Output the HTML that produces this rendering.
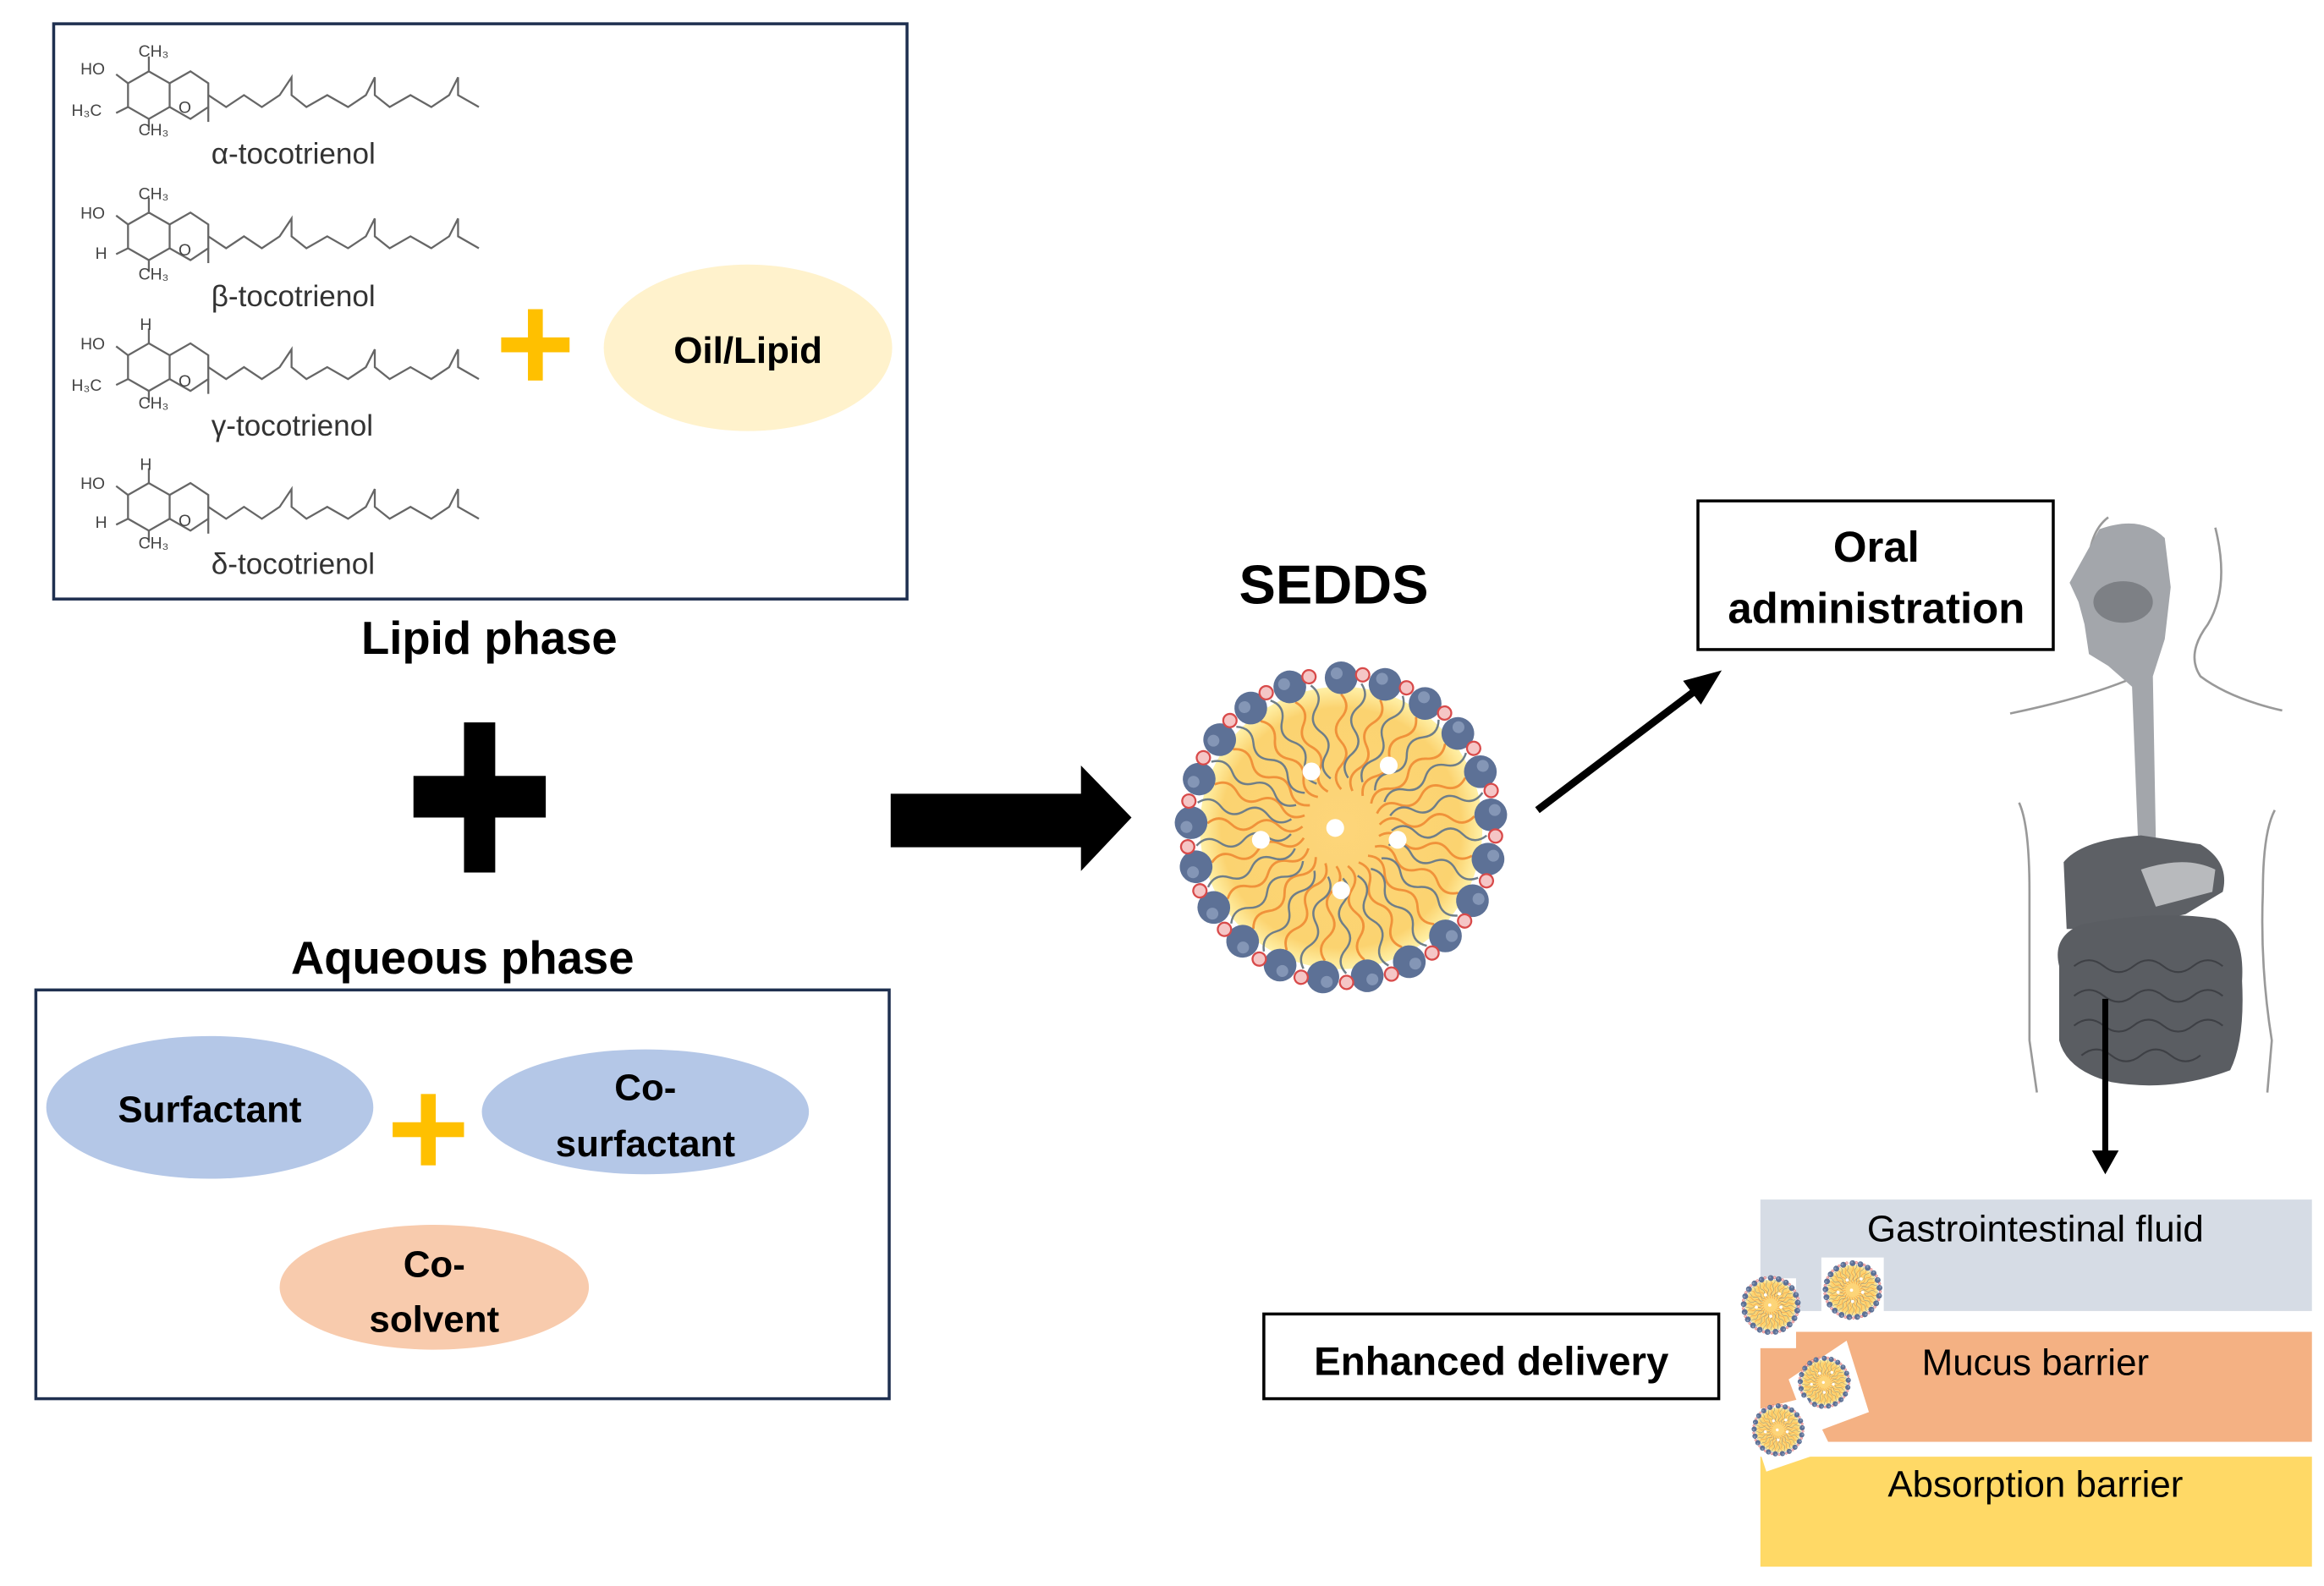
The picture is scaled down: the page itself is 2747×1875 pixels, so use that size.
<!DOCTYPE html>
<html><head><meta charset="utf-8"><style>
html,body{margin:0;padding:0;background:#fff}
svg{display:block}
text{font-family:"Liberation Sans","DejaVu Sans",sans-serif}
.b{font-weight:bold}
</style></head><body>
<svg width="2747" height="1875" viewBox="0 0 1563 1067" xmlns="http://www.w3.org/2000/svg">
<defs>
<radialGradient id="yg" cx="50%" cy="50%" r="50%">
<stop offset="0" stop-color="#fdd57a"/><stop offset="0.85" stop-color="#fbd370"/><stop offset="1" stop-color="#fff1a8"/>
</radialGradient>
<g id="mol" fill="none" stroke="#666" stroke-width="1.3">
<polygon points="100,48 114,56 114,72 100,80 86,72 86,56"/>
<polyline points="114,56 128,48 140,56 140,72 128,80 114,72"/>
<line x1="100" y1="48" x2="100" y2="38"/><line x1="100" y1="80" x2="100" y2="88"/>
<line x1="86" y1="56" x2="78" y2="50"/><line x1="86" y1="72" x2="78" y2="76"/>
<line x1="140" y1="72" x2="140" y2="82"/>
<polyline points="140,64 152,72 164,64 176,72 188,64 196,52 196,64 206,72 220,64 234,72 246,64 252,52 252,64 262,72 276,64 290,72 302,64 308,52 308,64 322,72"/>
</g>
<g id="spoke">
<path d="M0,-90 Q7,-82 0,-74 Q-7,-66 0,-58 Q7,-50 0,-42 Q-7,-34 0,-26" fill="none" stroke="#f0923a" stroke-width="1.6"/>
<circle cx="0" cy="-101" r="11" fill="#5d7196"/>
<circle cx="-3" cy="-104" r="4" fill="#8496b6"/>
</g>
<g id="rspoke">
<path d="M0,-98 Q7,-90 0,-82 Q-7,-74 0,-66 Q7,-58 0,-50 Q-7,-42 0,-34" fill="none" stroke="#6f7e88" stroke-width="1.4"/>
<circle cx="0" cy="-104" r="4.5" fill="#f5c6c6" stroke="#d84a4a" stroke-width="1.3"/>
</g>
<g id="part">
<circle cx="0" cy="0" r="95" fill="url(#yg)"/>
<use href="#spoke" transform="rotate(0)"/><use href="#spoke" transform="rotate(17)"/><use href="#spoke" transform="rotate(34)"/><use href="#spoke" transform="rotate(51)"/><use href="#spoke" transform="rotate(68)"/><use href="#spoke" transform="rotate(85)"/><use href="#spoke" transform="rotate(102)"/><use href="#spoke" transform="rotate(119)"/><use href="#spoke" transform="rotate(136)"/><use href="#spoke" transform="rotate(153)"/><use href="#spoke" transform="rotate(170)"/><use href="#spoke" transform="rotate(187)"/><use href="#spoke" transform="rotate(204)"/><use href="#spoke" transform="rotate(221)"/><use href="#spoke" transform="rotate(238)"/><use href="#spoke" transform="rotate(255)"/><use href="#spoke" transform="rotate(272)"/><use href="#spoke" transform="rotate(289)"/><use href="#spoke" transform="rotate(306)"/><use href="#spoke" transform="rotate(323)"/><use href="#spoke" transform="rotate(340)"/>
<use href="#rspoke" transform="rotate(8)"/><use href="#rspoke" transform="rotate(25)"/><use href="#rspoke" transform="rotate(42)"/><use href="#rspoke" transform="rotate(59)"/><use href="#rspoke" transform="rotate(76)"/><use href="#rspoke" transform="rotate(93)"/><use href="#rspoke" transform="rotate(110)"/><use href="#rspoke" transform="rotate(127)"/><use href="#rspoke" transform="rotate(144)"/><use href="#rspoke" transform="rotate(161)"/><use href="#rspoke" transform="rotate(178)"/><use href="#rspoke" transform="rotate(195)"/><use href="#rspoke" transform="rotate(212)"/><use href="#rspoke" transform="rotate(229)"/><use href="#rspoke" transform="rotate(246)"/><use href="#rspoke" transform="rotate(263)"/><use href="#rspoke" transform="rotate(280)"/><use href="#rspoke" transform="rotate(297)"/><use href="#rspoke" transform="rotate(314)"/><use href="#rspoke" transform="rotate(331)"/><use href="#rspoke" transform="rotate(348)"/>
<circle cx="-20" cy="-38" r="6" fill="#fff"/><circle cx="32" cy="-42" r="6" fill="#fff"/><circle cx="-4" cy="0" r="6" fill="#fff"/><circle cx="-54" cy="8" r="6" fill="#fff"/><circle cx="38" cy="8" r="6" fill="#fff"/><circle cx="0" cy="42" r="6" fill="#fff"/>
</g>
</defs>

<!-- Lipid box -->
<rect x="36" y="16" width="574" height="387" fill="#fff" stroke="#1f3050" stroke-width="2"/>
<use href="#mol" transform="translate(0,0)"/>
<use href="#mol" transform="translate(0,95)"/>
<use href="#mol" transform="translate(0,183)"/>
<use href="#mol" transform="translate(0,277)"/>
<g font-size="11" fill="#444">
<text x="54" y="50">HO</text><text x="93" y="38">CH₃</text><text x="48" y="78">H₃C</text><text x="93" y="91">CH₃</text><text x="120" y="76">O</text>
<text x="54" y="147">HO</text><text x="93" y="134">CH₃</text><text x="64" y="174">H</text><text x="93" y="188">CH₃</text><text x="120" y="172">O</text>
<text x="54" y="235">HO</text><text x="94" y="222">H</text><text x="48" y="263">H₃C</text><text x="93" y="275">CH₃</text><text x="120" y="260">O</text>
<text x="54" y="329">HO</text><text x="94" y="316">H</text><text x="64" y="355">H</text><text x="93" y="369">CH₃</text><text x="120" y="354">O</text>
</g>
<g font-size="20" fill="#333">
<text x="142" y="110">α-tocotrienol</text>
<text x="142" y="206">β-tocotrienol</text>
<text x="142" y="293">γ-tocotrienol</text>
<text x="142" y="386">δ-tocotrienol</text>
</g>
<rect x="355" y="208" width="10" height="48" fill="#ffc000"/><rect x="337" y="227" width="46" height="10" fill="#ffc000"/>
<ellipse cx="503" cy="234" rx="97" ry="56" fill="#fff2cc"/>
<text x="503" y="244" font-size="25" class="b" text-anchor="middle">Oil/Lipid</text>
<text x="329" y="440" font-size="31" class="b" text-anchor="middle">Lipid phase</text>

<!-- big plus -->
<rect x="312" y="486" width="21" height="101" fill="#000"/><rect x="278" y="522" width="89" height="28" fill="#000"/>
<text x="311" y="655" font-size="31" class="b" text-anchor="middle">Aqueous phase</text>

<!-- Aqueous box -->
<rect x="24" y="666" width="574" height="275" fill="#fff" stroke="#1f3050" stroke-width="2"/>
<ellipse cx="141" cy="745" rx="110" ry="48" fill="#b4c7e7"/>
<text x="141" y="755" font-size="25" class="b" text-anchor="middle">Surfactant</text>
<rect x="283" y="736" width="10" height="48" fill="#ffc000"/><rect x="264" y="755" width="48" height="10" fill="#ffc000"/>
<ellipse cx="434" cy="748" rx="110" ry="42" fill="#b4c7e7"/>
<text x="434" y="740" font-size="25" class="b" text-anchor="middle">Co-</text>
<text x="434" y="778" font-size="25" class="b" text-anchor="middle">surfactant</text>
<ellipse cx="292" cy="866" rx="104" ry="42" fill="#f8cbad"/>
<text x="292" y="859" font-size="25" class="b" text-anchor="middle">Co-</text>
<text x="292" y="896" font-size="25" class="b" text-anchor="middle">solvent</text>

<!-- big arrow -->
<rect x="599" y="534" width="131" height="36" fill="#000"/>
<polygon points="727,515 761,550 727,586" fill="#000"/>

<!-- SEDDS -->
<text x="897" y="406" font-size="37" class="b" text-anchor="middle">SEDDS</text>
<use href="#part" transform="translate(902,557)"/>

<!-- diagonal arrow -->
<line x1="1034" y1="545" x2="1145" y2="461" stroke="#000" stroke-width="5"/>
<polygon points="1158,451 1132,458 1144,474" fill="#000"/>

<!-- Oral admin box -->
<rect x="1142" y="337" width="239" height="100" fill="#fff" stroke="#000" stroke-width="2"/>
<text x="1262" y="378" font-size="29" class="b" text-anchor="middle">Oral</text>
<text x="1262" y="419" font-size="29" class="b" text-anchor="middle">administration</text>

<!-- human figure -->
<g fill="none" stroke="#999" stroke-width="1.5">
<path d="M1352,480 Q1400,470 1430,458"/><path d="M1535,478 Q1500,470 1480,455 Q1470,440 1485,420 Q1500,395 1490,355"/>
<path d="M1418,348 Q1402,360 1405,395"/>
<path d="M1358,540 Q1365,555 1365,600 Q1365,650 1365,700 L1370,735"/>
<path d="M1530,545 Q1522,560 1522,600 Q1520,650 1528,700 L1525,735"/>
</g>
<path d="M1412,356 Q1440,346 1456,362 L1460,395 L1456,430 L1448,455 L1450,565 L1438,565 L1434,462 L1418,448 L1405,440 L1402,420 L1398,405 L1392,392 Z" fill="#a3a6ab"/>
<ellipse cx="1428" cy="405" rx="20" ry="14" fill="#7d8085"/>
<path d="M1388,580 Q1400,565 1440,562 L1480,568 Q1500,580 1495,600 L1470,615 Q1430,625 1390,625 Z" fill="#5d6065"/>
<path d="M1440,585 Q1470,575 1490,585 L1488,600 L1450,610 Z" fill="#b8babd"/>
<path d="M1385,650 Q1380,630 1400,622 Q1450,612 1490,618 Q1510,625 1508,660 Q1510,700 1500,720 Q1460,735 1420,728 Q1390,720 1385,700 Z" fill="#5a5d62"/>
<g fill="none" stroke="#3e4045" stroke-width="1.2">
<path d="M1395,650 q10,-8 20,0 t20,0 t20,0 t20,0 t20,0"/><path d="M1395,670 q10,-8 20,0 t20,0 t20,0 t20,0 t20,0"/><path d="M1395,690 q10,-8 20,0 t20,0 t20,0 t20,0 t20,0"/><path d="M1400,710 q10,-8 20,0 t20,0 t20,0 t20,0"/>
</g>
<!-- down arrow -->
<line x1="1416" y1="672" x2="1416" y2="776" stroke="#000" stroke-width="4"/>
<polygon points="1407,774 1425,774 1416,790" fill="#000"/>

<!-- bands -->
<rect x="1184" y="807" width="371" height="75" fill="#d6dce5"/>
<rect x="1184" y="896" width="371" height="74" fill="#f4b183"/>
<rect x="1184" y="980" width="371" height="74" fill="#ffd966"/>
<text x="1369" y="835" font-size="25" text-anchor="middle">Gastrointestinal fluid</text>
<text x="1369" y="925" font-size="25" text-anchor="middle">Mucus barrier</text>
<text x="1369" y="1007" font-size="25" text-anchor="middle">Absorption barrier</text>

<!-- small particles -->
<rect x="1171" y="860" width="37" height="47" fill="#fff"/>
<rect x="1225" y="846" width="42" height="46" fill="#fff"/>
<use href="#part" transform="translate(1191,878) scale(0.18)"/>
<use href="#part" transform="translate(1246,868) scale(0.18)"/>
<polygon points="1203,928 1242,902 1257,950 1217,965" fill="#fff"/>
<use href="#part" transform="translate(1227,930) scale(0.16)"/>
<polygon points="1175,950 1215,940 1232,975 1188,990" fill="#fff"/>
<use href="#part" transform="translate(1196,962) scale(0.16)"/>

<!-- Enhanced delivery -->
<rect x="850" y="884" width="306" height="57" fill="#fff" stroke="#000" stroke-width="2"/>
<text x="1003" y="925" font-size="27" class="b" text-anchor="middle">Enhanced delivery</text>
</svg>
</body></html>
